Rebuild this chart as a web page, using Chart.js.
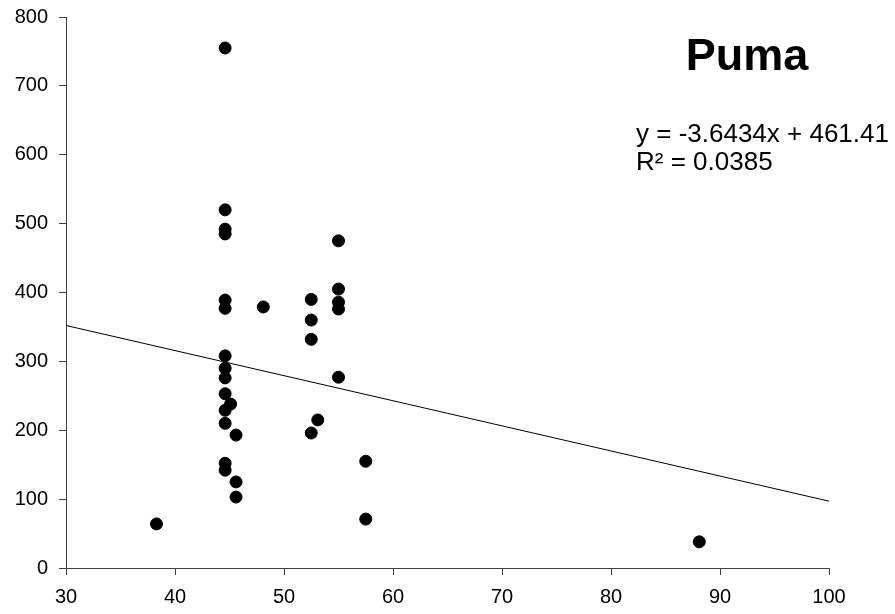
<!DOCTYPE html>
<html>
<head>
<meta charset="utf-8">
<script src="https://cdn.jsdelivr.net/npm/chart.js@4.4.0/dist/chart.umd.min.js"></script>
<style>
  html, body { margin: 0; padding: 0; background: #fff; }
  #wrap { width: 895px; height: 614px; position: relative; }
</style>
</head>
<body>
<div id="wrap"><canvas id="c" width="895" height="614"></canvas></div>
<script>
const chartTitle = "Puma";
const equationText = "y = -3.6434x + 461.41";
const r2Text = "R² = 0.0385";
const slope = -3.6434;
const intercept = 461.41;
const trendX = [30, 100];

const xValues = [44.6, 44.6, 44.6, 44.6, 44.6, 44.6, 48.1, 44.6, 44.6, 44.6, 44.6, 45.1, 44.6, 44.6, 45.6, 44.6, 44.6, 45.6, 45.6, 38.3,
                 55.0, 55.0, 55.0, 55.0, 52.5, 52.5, 52.5, 55.0, 53.1, 52.5, 57.5, 57.5, 88.1];
const yValues = [755, 520, 492, 485, 389, 377, 379, 308, 290, 276, 253, 238, 229, 210, 193, 152, 142, 125, 103, 64,
                 475, 405, 386, 376, 390, 360, 332, 277, 215, 196, 155, 71, 38];

const xMin = 30, xMax = 100, xStep = 10;
const yMin = 0, yMax = 800, yStep = 100;

const points = xValues.map((x, i) => ({ x: x, y: yValues[i] }));
const trendPoints = trendX.map(x => ({ x: x, y: slope * x + intercept }));

const textPlugin = {
  id: 'textPlugin',
  afterDraw(chart) {
    const ctx = chart.ctx;
    ctx.save();
    ctx.fillStyle = '#000';
    ctx.textBaseline = 'middle';
    ctx.textAlign = 'center';
    ctx.font = 'bold 45px "Liberation Sans", Arial, sans-serif';
    ctx.fillText(chartTitle, 747, 58);
    ctx.textAlign = 'left';
    ctx.font = '26px "Liberation Sans", Arial, sans-serif';
    ctx.fillText(equationText, 636, 135);
    ctx.fillText(r2Text, 636, 163);
    ctx.restore();
  }
};

const fontSpec = { family: '"Liberation Sans", Arial, sans-serif', size: 20 };

new Chart(document.getElementById('c'), {
  type: 'scatter',
  data: {
    datasets: [
      {
        data: points,
        backgroundColor: '#000',
        borderColor: '#000',
        pointRadius: 6,
        pointHoverRadius: 6,
        showLine: false
      },
      {
        data: trendPoints,
        showLine: true,
        borderColor: '#000',
        borderWidth: 1,
        pointRadius: 0,
        fill: false
      }
    ]
  },
  options: {
    responsive: false,
    animation: false,
    layout: { padding: { left: 0, right: 66, top: 17, bottom: 0 } },
    plugins: { legend: { display: false }, tooltip: { enabled: false } },
    scales: {
      x: {
        type: 'linear',
        min: xMin, max: xMax,
        ticks: { stepSize: xStep, color: '#000', font: fontSpec, padding: 10, maxRotation: 0 },
        grid: { drawOnChartArea: false, drawTicks: true, tickLength: 7, color: '#404040' },
        border: { color: '#404040', width: 1 },
        afterFit(scale) { scale.height = 46; scale.paddingLeft = 0; scale.paddingRight = 0; }
      },
      y: {
        type: 'linear',
        min: yMin, max: yMax,
        ticks: { stepSize: yStep, color: '#000', font: fontSpec, padding: 11 },
        grid: { drawOnChartArea: false, drawTicks: true, tickLength: 7, color: '#404040' },
        border: { color: '#404040', width: 1 },
        afterFit(scale) { scale.width = 66; scale.paddingTop = 0; scale.paddingBottom = 0; }
      }
    }
  },
  plugins: [textPlugin]
});
</script>
</body>
</html>
